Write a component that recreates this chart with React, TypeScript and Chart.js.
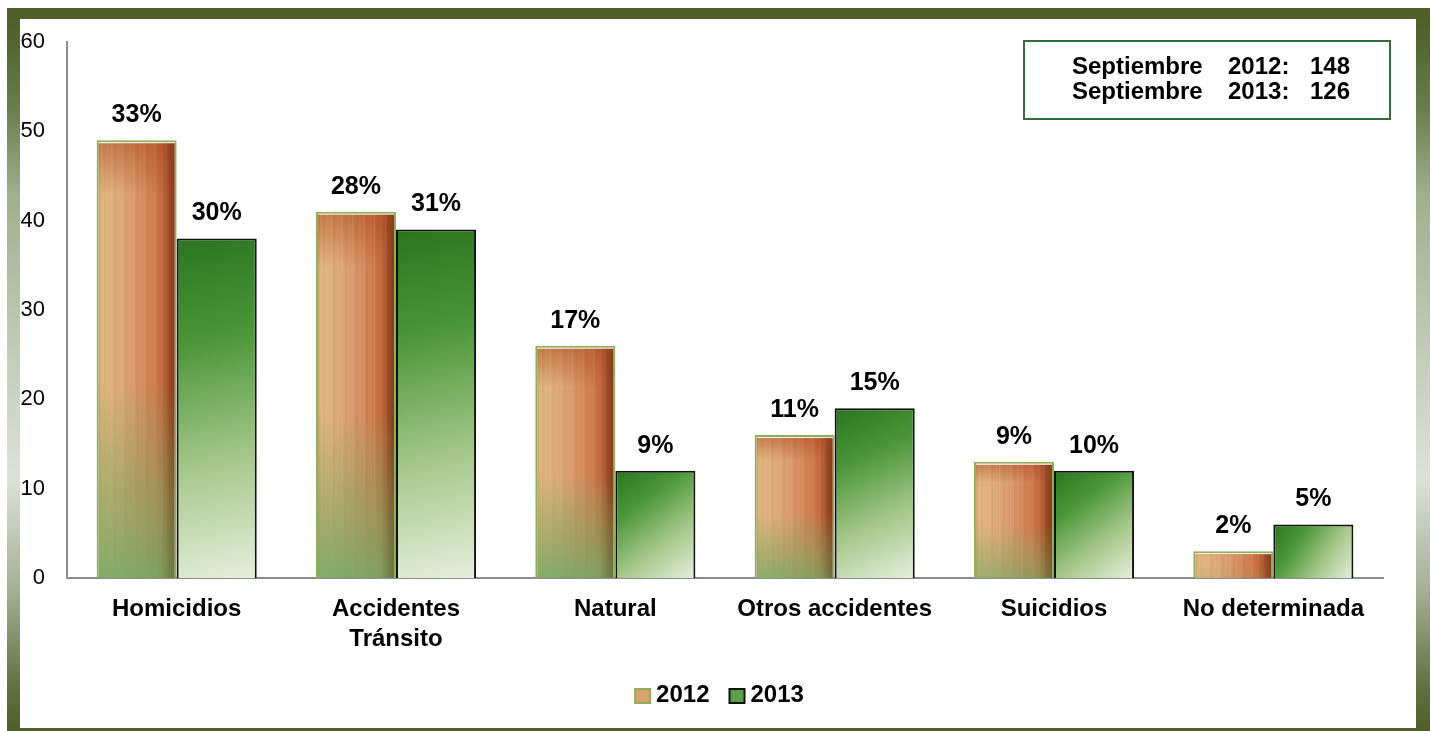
import React, { useEffect, useRef } from "react";
import { Chart, registerables } from "chart.js";

Chart.register(...registerables);

const categories: (string | string[])[] = [
  "Homicidios",
  ["Accidentes", "Tránsito"],
  "Natural",
  "Otros accidentes",
  "Suicidios",
  "No determinada",
];
const values2012 = [49, 41, 26, 16, 13, 3];
const values2013 = [38, 39, 12, 19, 12, 6];
const pct2012 = ["33%", "28%", "17%", "11%", "9%", "2%"];
const pct2013 = ["30%", "31%", "9%", "15%", "10%", "5%"];
const seriesLabels = ["2012", "2013"];
const legendFill = ["#d9a070", "#5aa048"];
const legendStroke = ["#8fae5a", "#111"];
const summaryLines = [
  ["Septiembre", "2012:", "148"],
  ["Septiembre", "2013:", "126"],
];

const FONT = '"Liberation Sans", Arial, Helvetica, sans-serif';
const CAT_PCT = 0.73;

function barGeom(chart: any, dataIndex: number, dsIndex: number, value: number) {
  const xs = chart.scales.x;
  const ys = chart.scales.y;
  if (!xs || !ys || !chart.chartArea) return null;
  const center = xs.getPixelForValue(dataIndex);
  const catW = xs.width / categories.length;
  const w = (catW * CAT_PCT) / 2;
  const left = dsIndex === 0 ? center - w : center;
  const top = ys.getPixelForValue(value);
  const base = ys.getPixelForValue(0);
  return { left, top, w, h: Math.max(1, base - top), base };
}

const streakFracs = [0.05, 0.09, 0.13, 0.18, 0.22, 0.27, 0.31, 0.36, 0.41, 0.45, 0.5, 0.54, 0.59, 0.63, 0.68, 0.72, 0.77, 0.81, 0.86, 0.9];

function pattern2012(ctx2d: CanvasRenderingContext2D, g: any) {
  const W = Math.max(1, Math.round(g.w));
  const H = Math.max(1, Math.round(g.h));
  const c = document.createElement("canvas");
  c.width = W;
  c.height = H;
  const x = c.getContext("2d")!;
  const hg = x.createLinearGradient(0, 0, W, 0);
  hg.addColorStop(0, "#c49c60");
  hg.addColorStop(0.08, "#e2b680");
  hg.addColorStop(0.3, "#dea878");
  hg.addColorStop(0.55, "#d68f62");
  hg.addColorStop(0.8, "#c86e44");
  hg.addColorStop(0.92, "#ad5028");
  hg.addColorStop(1, "#93401e");
  x.fillStyle = hg;
  x.fillRect(0, 0, W, H);
  const topBand = Math.min(H * 0.18, 55);
  const tg = x.createLinearGradient(0, 0, 0, topBand);
  tg.addColorStop(0, "rgba(170,70,30,0.55)");
  tg.addColorStop(1, "rgba(170,70,30,0)");
  x.fillStyle = tg;
  x.fillRect(0, 0, W, topBand);
  streakFracs.forEach((f, i) => {
    x.fillStyle = i % 3 === 0 ? "rgba(255,240,210,0.10)" : i % 3 === 1 ? "rgba(120,50,20,0.07)" : "rgba(230,200,150,0.08)";
    x.fillRect(f * W, 0, 1.5, H);
  });
  const k = Math.min(1, H / 160);
  const vg = x.createLinearGradient(0, 0, 0, H);
  vg.addColorStop(0, "rgba(125,170,95,0)");
  vg.addColorStop(0.55, "rgba(125,170,95,0)");
  vg.addColorStop(0.8, `rgba(130,165,95,${0.55 * k})`);
  vg.addColorStop(1, `rgba(110,170,100,${0.82 * k})`);
  x.fillStyle = vg;
  x.fillRect(0, 0, W, H);
  const rg = x.createLinearGradient(0, 0, W, 0);
  rg.addColorStop(0.8, "rgba(80,40,15,0)");
  rg.addColorStop(1, "rgba(80,40,15,0.35)");
  x.fillStyle = rg;
  x.fillRect(0, 0, W, H);
  x.fillStyle = "rgba(255,255,255,0.85)";
  x.fillRect(0, 0, W, 3);
  const p = ctx2d.createPattern(c, "no-repeat")!;
  p.setTransform(new DOMMatrix([1, 0, 0, 1, g.left, g.top]));
  return p;
}

function gradient2013(ctx2d: CanvasRenderingContext2D, g: any) {
  const gr = ctx2d.createLinearGradient(g.left, g.top, g.left + g.w, g.base);
  gr.addColorStop(0, "#2a761f");
  gr.addColorStop(0.3, "#4b9638");
  gr.addColorStop(0.65, "#a4c789");
  gr.addColorStop(1, "#e6efdd");
  return gr;
}

const labelsPlugin = {
  id: "pctLabels",
  afterDatasetsDraw(chart: any) {
    const ctx = chart.ctx;
    ctx.save();
    ctx.font = `bold 25px ${FONT}`;
    ctx.fillStyle = "#000";
    ctx.textAlign = "center";
    ctx.textBaseline = "middle";
    [pct2012, pct2013].forEach((arr, di) => {
      const meta = chart.getDatasetMeta(di);
      meta.data.forEach((el: any, i: number) => {
        ctx.fillText(arr[i], el.x, el.y - 25);
      });
    });
    ctx.restore();
  },
};

const legendPlugin = {
  id: "customLegend",
  afterDraw(chart: any) {
    const ctx = chart.ctx;
    ctx.save();
    ctx.font = `bold 24px ${FONT}`;
    const box = 15;
    const gap = 6;
    const itemGap = 20;
    const widths = seriesLabels.map((t) => box + gap + ctx.measureText(t).width);
    const total = widths.reduce((a, b) => a + b, 0) + itemGap * (seriesLabels.length - 1);
    let x = chart.width / 2 + 2 - total / 2;
    const cy = 676;
    seriesLabels.forEach((t, i) => {
      ctx.fillStyle = legendFill[i];
      ctx.fillRect(x, cy - 6, box, 14);
      ctx.strokeStyle = legendStroke[i];
      ctx.lineWidth = 2;
      ctx.strokeRect(x, cy - 6, box, 14);
      ctx.fillStyle = "#000";
      ctx.textBaseline = "middle";
      ctx.textAlign = "left";
      ctx.fillText(t, x + box + gap, cy);
      x += widths[i] + itemGap;
    });
    ctx.restore();
  },
};

const summaryPlugin = {
  id: "summaryBox",
  afterDraw(chart: any) {
    const ctx = chart.ctx;
    ctx.save();
    ctx.fillStyle = "#fff";
    ctx.fillRect(1004, 22, 366, 78);
    ctx.strokeStyle = "#2f6e3e";
    ctx.lineWidth = 2;
    ctx.strokeRect(1004, 22, 366, 78);
    ctx.font = `bold 24px ${FONT}`;
    ctx.fillStyle = "#000";
    ctx.textBaseline = "middle";
    ctx.textAlign = "left";
    const xs = [1052, 1208, 1290];
    const ys = [48, 73];
    summaryLines.forEach((line, r) => {
      line.forEach((t, c) => ctx.fillText(t, xs[c], ys[r]));
    });
    ctx.restore();
  },
};

export default function App() {
  const ref = useRef<HTMLCanvasElement | null>(null);
  useEffect(() => {
    if (!ref.current) return;
    const chart = new Chart(ref.current, {
      type: "bar",
      data: {
        labels: categories as any,
        datasets: [
          {
            label: seriesLabels[0],
            data: values2012,
            backgroundColor: (c: any) => {
              if (c.type !== "data") return legendFill[0];
              const g = barGeom(c.chart, c.dataIndex, 0, values2012[c.dataIndex]);
              if (!g) return legendFill[0];
              return pattern2012(c.chart.ctx, g);
            },
            borderColor: "#8fae5a",
            borderWidth: 2,
            categoryPercentage: CAT_PCT,
            barPercentage: 1,
          },
          {
            label: seriesLabels[1],
            data: values2013,
            backgroundColor: (c: any) => {
              if (c.type !== "data") return legendFill[1];
              const g = barGeom(c.chart, c.dataIndex, 1, values2013[c.dataIndex]);
              if (!g) return legendFill[1];
              return gradient2013(c.chart.ctx, g);
            },
            borderColor: "#111",
            borderWidth: 2,
            categoryPercentage: CAT_PCT,
            barPercentage: 1,
          },
        ],
      },
      options: {
        responsive: false,
        animation: false,
        events: [],
        layout: { padding: { left: 0, right: 32, top: 23, bottom: 66 } },
        scales: {
          x: {
            grid: { display: false },
            border: { display: true, color: "#8c8c8c", width: 2 },
            ticks: {
              color: "#000",
              font: { family: FONT, size: 24, weight: "bold", lineHeight: 1.25 },
              padding: 8,
              maxRotation: 0,
              autoSkip: false,
            },
            afterFit: (s: any) => {
              s.height = 84;
              s.paddingLeft = 0;
              s.paddingRight = 0;
            },
          },
          y: {
            min: 0,
            max: 60,
            grid: { display: false, drawTicks: false },
            border: { display: true, color: "#8c8c8c", width: 2 },
            ticks: {
              stepSize: 10,
              color: "#000",
              font: { family: FONT, size: 22 },
              padding: 22,
            },
            afterFit: (s: any) => {
              s.width = 47;
              s.paddingTop = 0;
              s.paddingBottom = 0;
            },
          },
        },
        plugins: {
          tooltip: { enabled: false },
          legend: { display: false },
        },
      },
      plugins: [labelsPlugin, legendPlugin, summaryPlugin],
    } as any);
    return () => chart.destroy();
  }, []);

  return (
    <div
      style={{
        position: "fixed",
        left: 0,
        top: 0,
        width: 1431,
        height: 731,
        background: "#fff",
        overflow: "hidden",
      }}
    >
      <div
        style={{
          position: "absolute",
          left: 7,
          top: 8,
          width: 1423,
          height: 732,
          boxSizing: "border-box",
          borderStyle: "solid",
          borderWidth: "11px 14px 12px 13px",
          borderImage:
            "linear-gradient(to bottom, #4f6128 0%, #536830 4%, #6a7e4c 12.6%, #9fb08e 25%, #dde2d7 64.5%, #a3ad93 81%, #5f7040 94.5%, #4f6128 100%) 1",
        }}
      />
      <canvas
        ref={ref}
        width={1395}
        height={709}
        style={{ position: "absolute", left: 20, top: 19, width: 1395, height: 709 }}
      />
    </div>
  );
}
